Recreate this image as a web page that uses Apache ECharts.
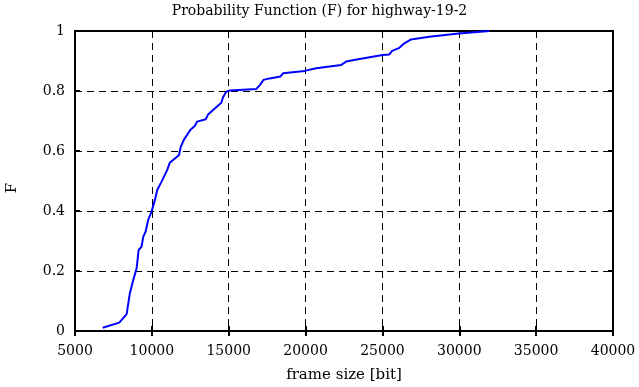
<!DOCTYPE html>
<html><head><meta charset="utf-8">
<script src="https://cdn.jsdelivr.net/npm/echarts@6/dist/echarts.min.js"></script>
<style>html,body{margin:0;padding:0;background:#fff}#c{width:639px;height:387px}</style>
</head><body><div id="c"></div>
<script>
const titleText = 'Probability Function (F) for highway-19-2';
const xName = 'frame size [bit]';
const yName = 'F';
const frameSize = [6800, 7880, 8360, 8420, 8570, 8790, 9010, 9140, 9330, 9440, 9590, 9760, 9980, 10200, 10350, 10630, 11000, 11170, 11770, 11880, 12080, 12360, 12530, 12790, 12940, 13510, 13660, 14090, 14520, 14630, 14850, 15070, 16800, 17010, 17270, 17660, 18360, 18530, 19940, 20690, 22320, 22640, 23510, 25020, 25450, 25630, 26100, 26430, 26860, 28050, 29960, 31950];
const probF = [0.011, 0.028, 0.056, 0.06, 0.126, 0.17, 0.209, 0.27, 0.281, 0.314, 0.331, 0.37, 0.398, 0.437, 0.47, 0.498, 0.537, 0.561, 0.587, 0.614, 0.637, 0.659, 0.672, 0.683, 0.698, 0.706, 0.722, 0.742, 0.761, 0.779, 0.798, 0.802, 0.807, 0.819, 0.837, 0.842, 0.848, 0.859, 0.867, 0.876, 0.887, 0.898, 0.907, 0.92, 0.922, 0.934, 0.944, 0.959, 0.972, 0.981, 0.992, 1.0];
const xTicks = [5000, 10000, 15000, 20000, 25000, 30000, 35000, 40000];
const yTicks = [0, 0.2, 0.4, 0.6, 0.8, 1];

const font = 'DejaVu Serif';
const data = frameSize.map((x, i) => [x, probF[i]]);
const chart = echarts.init(document.getElementById('c'), null, {renderer: 'canvas'});
const gridLine = {show: true, lineStyle: {color: '#000', type: [7, 5], width: 1}};
const tickStyle = {show: true, inside: true, length: 5, lineStyle: {color: '#000', width: 2}};
chart.setOption({
  animation: false,
  title: {text: titleText, left: 'center', top: -1, textStyle: {fontFamily: font, fontSize: 14, fontWeight: 'normal', color: '#000'}},
  grid: {left: 75, right: 26, top: 31, bottom: 56, show: true, borderColor: '#000', borderWidth: 2,
    containLabel: false, outerBoundsMode: 'none'},
  xAxis: [{
    type: 'value', min: xTicks[0], max: xTicks[xTicks.length - 1], interval: 5000,
    name: xName, nameLocation: 'middle', nameGap: 37,
    nameTextStyle: {fontFamily: font, fontSize: 15, color: '#000'},
    axisLine: {show: true, lineStyle: {color: '#000', width: 2}},
    axisTick: tickStyle,
    axisLabel: {fontFamily: font, fontSize: 14, color: '#000', margin: 13, formatter: v => String(v)},
    splitLine: gridLine
  }, {
    type: 'value', position: 'top', min: xTicks[0], max: xTicks[xTicks.length - 1], interval: 5000,
    axisLine: {show: false}, axisTick: tickStyle,
    axisLabel: {show: false}, splitLine: {show: false}
  }],
  yAxis: [{
    type: 'value', min: yTicks[0], max: yTicks[yTicks.length - 1], interval: 0.2,
    name: yName, nameLocation: 'middle', nameGap: 55, nameRotate: 90,
    nameTextStyle: {fontFamily: font, fontSize: 15, color: '#000', padding: [0, 14, 0, 0]},
    axisLine: {show: true, lineStyle: {color: '#000', width: 2}},
    axisTick: tickStyle,
    axisLabel: {fontFamily: font, fontSize: 14, color: '#000', margin: 10,
      formatter: v => String(parseFloat(v.toFixed(1)))},
    splitLine: gridLine
  }, {
    type: 'value', position: 'right', min: yTicks[0], max: yTicks[yTicks.length - 1], interval: 0.2,
    axisLine: {show: false}, axisTick: tickStyle,
    axisLabel: {show: false}, splitLine: {show: false}
  }],
  series: [{
    type: 'line', data: data, showSymbol: false, symbol: 'none',
    lineStyle: {color: '#0000ff', width: 2}, xAxisIndex: 0, yAxisIndex: 0
  }]
});
</script></body></html>
